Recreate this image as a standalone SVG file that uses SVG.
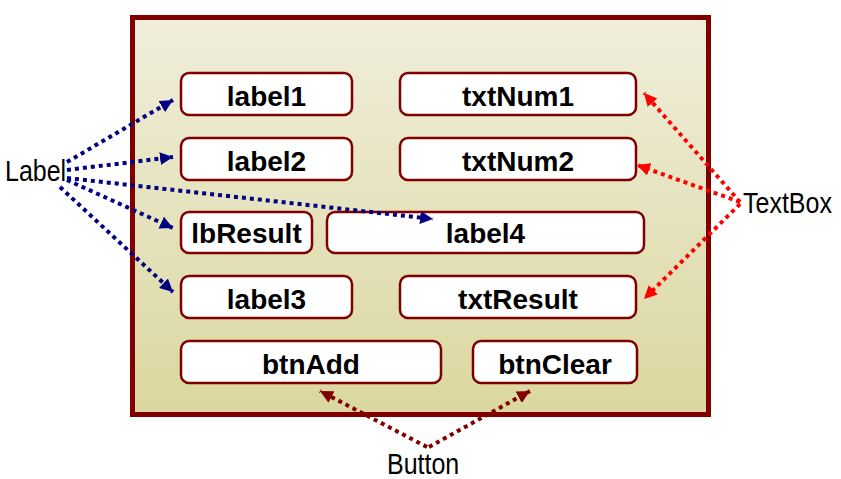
<svg xmlns="http://www.w3.org/2000/svg" width="841" height="479" viewBox="0 0 841 479">
<style>
.box{fill:#fff;stroke:#800000;stroke-width:2.5}
.bt{font-family:"Liberation Sans",Arial,sans-serif;font-weight:bold;font-size:28px;fill:#000;text-anchor:middle}
.ot{font-family:"Liberation Sans",Arial,sans-serif;font-size:25px;fill:#000}
.c{fill:none;stroke-width:4;stroke-dasharray:4 4}
.blue{stroke:#000080}
.red{stroke:#ff0000}
.dred{stroke:#800000}
</style>
<defs>
<linearGradient id="bg" x1="0" y1="0" x2="0" y2="1">
<stop offset="0" stop-color="#f0eedc"/>
<stop offset="1" stop-color="#dbd79f"/>
</linearGradient>
<marker id="ab" viewBox="0 0 12 12" refX="12" refY="6" markerWidth="13" markerHeight="13" markerUnits="userSpaceOnUse" orient="auto"><path d="M0,0 L12,6 L0,12 z" fill="#000080"/></marker>
<marker id="ar" viewBox="0 0 12 12" refX="12" refY="6" markerWidth="13" markerHeight="13" markerUnits="userSpaceOnUse" orient="auto"><path d="M0,0 L12,6 L0,12 z" fill="#ff0000"/></marker>
<marker id="ad" viewBox="0 0 12 12" refX="12" refY="6" markerWidth="13" markerHeight="13" markerUnits="userSpaceOnUse" orient="auto"><path d="M0,0 L12,6 L0,12 z" fill="#800000"/></marker>
</defs>
<g id="form">
<rect x="132.5" y="17.5" width="576" height="397" fill="url(#bg)" stroke="#800000" stroke-width="5"/>
</g>
<g id="label1"><rect class="box" x="181" y="73" width="171" height="42" rx="8"/><text class="bt" x="266.5" y="106">label1</text></g>
<g id="txtNum1"><rect class="box" x="400" y="73" width="236" height="42" rx="8"/><text class="bt" x="518" y="106">txtNum1</text></g>
<g id="label2"><rect class="box" x="181" y="138" width="171" height="42" rx="8"/><text class="bt" x="266.5" y="171">label2</text></g>
<g id="txtNum2"><rect class="box" x="400" y="138" width="236" height="42" rx="8"/><text class="bt" x="518" y="171">txtNum2</text></g>
<g id="lbResult"><rect class="box" x="181" y="212" width="131" height="41" rx="8"/><text class="bt" x="246.5" y="243">lbResult</text></g>
<g id="label4"><rect class="box" x="327" y="212" width="317" height="41" rx="8"/><text class="bt" x="485.5" y="243">label4</text></g>
<g id="label3"><rect class="box" x="181" y="276" width="171" height="42" rx="8"/><text class="bt" x="266.5" y="309">label3</text></g>
<g id="txtResult"><rect class="box" x="400" y="276" width="236" height="42" rx="8"/><text class="bt" x="518" y="309">txtResult</text></g>
<g id="btnAdd"><rect class="box" x="181" y="341" width="260" height="42" rx="8"/><text class="bt" x="311" y="374">btnAdd</text></g>
<g id="btnClear"><rect class="box" x="473" y="341" width="164" height="42" rx="8"/><text class="bt" x="555" y="374">btnClear</text></g>
<g id="Label"><text class="ot" transform="translate(5,181) scale(1,1.18)">Label</text></g>
<g id="TextBox"><text class="ot" transform="translate(743,213) scale(1,1.18)">TextBox</text></g>
<g id="Button"><text class="ot" transform="translate(387,474) scale(1,1.18)">Button</text></g>
<g id="connectors">
<path class="c blue" d="M67,162 L173,100" marker-end="url(#ab)"/>
<path class="c blue" d="M67,170 L173,157" marker-end="url(#ab)"/>
<path class="c blue" d="M67,178 L433,219" marker-end="url(#ab)"/>
<path class="c blue" d="M67,180 L173,228" marker-end="url(#ab)"/>
<path class="c blue" d="M60,187 L173,292" marker-end="url(#ab)"/>
<path class="c red" d="M740,202 L644,93" marker-end="url(#ar)"/>
<path class="c red" d="M740,202 L637,165" marker-end="url(#ar)"/>
<path class="c red" d="M740,204 L644,299" marker-end="url(#ar)"/>
<path class="c dred" d="M427,447 L320,391" marker-end="url(#ad)"/>
<path class="c dred" d="M429,447 L530,391" marker-end="url(#ad)"/>
</g>
</svg>
